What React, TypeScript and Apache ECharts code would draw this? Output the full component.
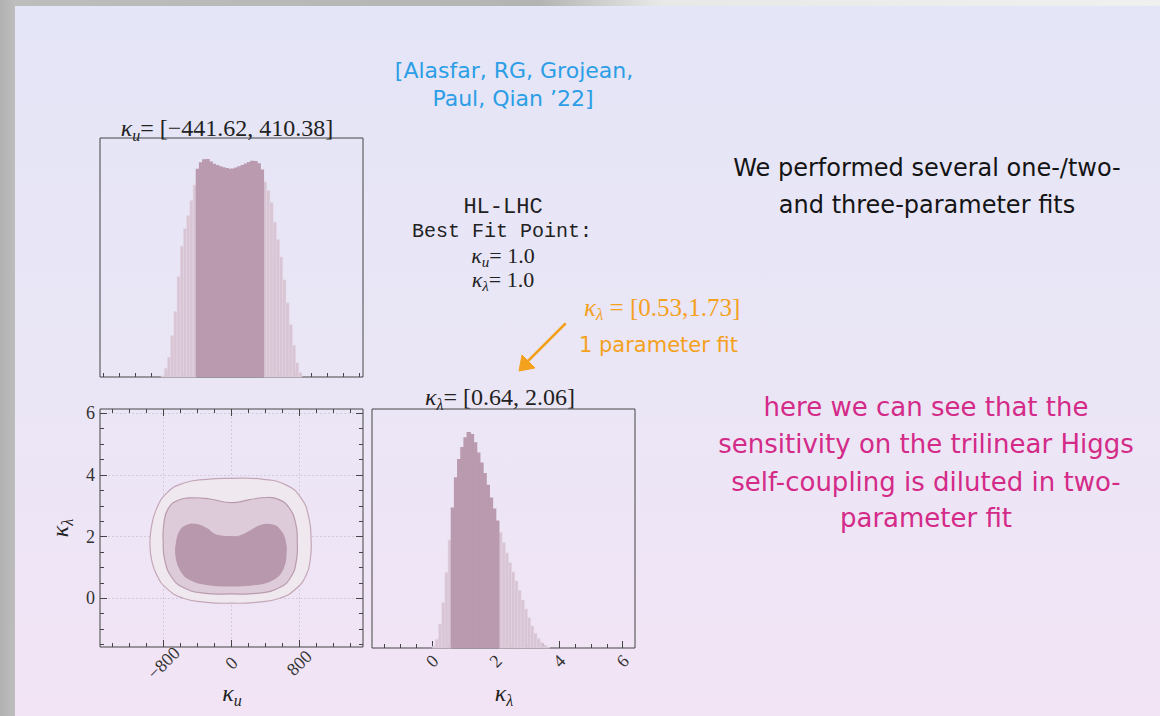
import React, { useEffect, useRef } from "react";
import * as echarts from "echarts";

// ---------- data ----------
const kuBinCenters = [
  -860, -820, -780, -740, -700, -660, -620, -580, -540, -500,
  -460, -420, -380, -340, -300, -260, -220, -180, -140, -100,
  -60, -20, 20, 60, 100, 140, 180, 220, 260, 300,
  340, 380, 420, 460, 500, 540, 580, 620, 660, 700,
  740, 780, 820, 860,
];
const kuCounts = [
  0.005, 0.04, 0.09, 0.19, 0.3, 0.46, 0.6, 0.68, 0.74, 0.81,
  0.88, 0.955, 0.985, 0.998, 1.0, 0.988, 0.978, 0.972, 0.967, 0.962,
  0.958, 0.955, 0.956, 0.961, 0.967, 0.972, 0.979, 0.986, 0.992, 0.99,
  0.98, 0.952, 0.895, 0.855, 0.8, 0.71, 0.63, 0.55, 0.445, 0.34,
  0.24, 0.145, 0.065, 0.02,
];
const kuInterval = [-441.62, 410.38];

const klBinCenters = [
  0.05, 0.15, 0.25, 0.35, 0.45, 0.55, 0.65, 0.75, 0.85, 0.95,
  1.05, 1.15, 1.25, 1.35, 1.45, 1.55, 1.65, 1.75, 1.85, 1.95,
  2.05, 2.15, 2.25, 2.35, 2.45, 2.55, 2.65, 2.75, 2.85, 2.95,
  3.05, 3.15, 3.25, 3.35, 3.45, 3.55, 3.65,
];
const klCounts = [
  0.008, 0.04, 0.11, 0.21, 0.35, 0.5, 0.65, 0.79, 0.875, 0.93,
  0.975, 1.0, 0.99, 0.952, 0.905, 0.858, 0.81, 0.755, 0.697, 0.645,
  0.59, 0.535, 0.487, 0.44, 0.395, 0.352, 0.31, 0.266, 0.222, 0.18,
  0.14, 0.102, 0.068, 0.043, 0.026, 0.013, 0.005,
];
const klInterval = [0.64, 2.06];

// 2D contours [kappa_u, kappa_lambda]
const contourOuter = [
  [0, 3.89], [-294, 3.86], [-569, 3.73], [-764, 3.41], [-890, 2.86], [-949, 2.22],
  [-961, 1.72], [-941, 1.24], [-882, 0.76], [-764, 0.32], [-569, 0.0], [-294, -0.13],
  [0, -0.16], [294, -0.13], [568, 0.0], [764, 0.32], [882, 0.76], [930, 1.3],
  [938, 1.9], [913, 2.6], [823, 3.24], [647, 3.67], [372, 3.86],
];
const contourMiddle = [
  [0, 3.1], [-257, 3.22], [-453, 3.26], [-629, 3.18], [-746, 2.91], [-797, 2.42],
  [-805, 1.8], [-786, 1.23], [-707, 0.69], [-569, 0.35], [-334, 0.17], [0, 0.14],
  [327, 0.17], [568, 0.35], [700, 0.69], [765, 1.23], [775, 1.88], [757, 2.42],
  [680, 2.93], [560, 3.2], [412, 3.27], [215, 3.2],
];
const contourInner = [
  [0, 2.0], [-180, 2.05], [-294, 2.26], [-412, 2.39], [-529, 2.36], [-608, 2.17],
  [-650, 1.77], [-652, 1.34], [-600, 0.91], [-490, 0.61], [-294, 0.45], [0, 0.4],
  [294, 0.45], [490, 0.61], [607, 0.96], [642, 1.45], [630, 1.88], [568, 2.23],
  [460, 2.39], [345, 2.36], [215, 2.17], [98, 2.02],
];

const kuMajorTicks = [-800, 0, 800];
const kuMinorTicks = [
  -1600, -1400, -1200, -1000, -800, -600, -400, -200, 0,
  200, 400, 600, 800, 1000, 1200, 1400, 1600,
];
const klMajorTicks = [0, 2, 4, 6];
const klMinorTicks = [
  -1.5, -1, -0.5, 0, 0.5, 1, 1.5, 2, 2.5, 3, 3.5, 4, 4.5, 5, 5.5, 6,
];

// ---------- styles ----------
const SERIF = '"Liberation Serif", "DejaVu Serif", serif';
const MONO = '"Liberation Mono", "DejaVu Sans Mono", monospace';
const HAND = '"DejaVu Sans", "Noto Sans", sans-serif';

const DARK = "#b99aae";
const LIGHT = "#d8c4d4";
const LIGHT_EDGE = "#e3d5e1";
const AXIS = "#454545";
const TICK = { color: AXIS, width: 1 };

const fmt = (v: number) => (v < 0 ? "\u2212" + Math.abs(v) : String(v));

function axis(
  gridIndex: number,
  range: number[],
  ticks: number[],
  len: number,
  position: string,
  label?: any,
  split?: boolean
) {
  const vals = ticks.filter((v) => v >= range[0] - 1e-9 && v <= range[1] + 1e-9);
  return {
    type: "value",
    gridIndex,
    min: range[0],
    max: range[1],
    position,
    axisLine: { show: false, onZero: false },
    axisTick: { show: true, inside: true, length: len, customValues: vals, lineStyle: TICK },
    axisLabel: label
      ? {
          show: true,
          customValues: vals,
          formatter: fmt,
          fontFamily: SERIF,
          fontSize: 18,
          color: "#333",
          ...label,
        }
      : { show: false },
    splitLine: split
      ? { show: true, lineStyle: { color: "rgba(150,150,165,0.4)", width: 0.8, type: [2, 2] } }
      : { show: false },
    minorTick: { show: false },
    minorSplitLine: { show: false },
  };
}

function histSeries(xIdx: number, yIdx: number, centers: number[], counts: number[], interval: number[]) {
  const w = centers[1] - centers[0];
  return {
    type: "custom",
    xAxisIndex: xIdx,
    yAxisIndex: yIdx,
    silent: true,
    data: centers.map((c, i) => [c, counts[i]]),
    encode: { x: 0, y: 1 },
    renderItem: (_params: any, api: any) => {
      const c = api.value(0);
      const h = api.value(1);
      const a = api.coord([c - w / 2, 0]);
      const b = api.coord([c + w / 2, h]);
      const inside = c >= interval[0] && c <= interval[1];
      if (inside) {
        return {
          type: "rect",
          shape: { x: a[0] - 0.6, y: b[1], width: b[0] - a[0] + 1.2, height: a[1] - b[1] },
          style: { fill: DARK },
          z2: 2,
        };
      }
      return {
        type: "rect",
        shape: { x: a[0], y: b[1], width: b[0] - a[0], height: a[1] - b[1] },
        style: { fill: LIGHT, stroke: LIGHT_EDGE, lineWidth: 0.6 },
        z2: 1,
      };
    },
  };
}

const contours = [
  { pts: contourOuter, fill: "#f0e8ef", stroke: "#c3a6b8" },
  { pts: contourMiddle, fill: "#ddcbd9", stroke: "#b99bae" },
  { pts: contourInner, fill: "#b898ad", stroke: "#b898ad" },
];

function kRich(size: number, color: string) {
  const sub = Math.round(size * 0.66);
  return {
    k: { fontFamily: SERIF, fontStyle: "italic", fontSize: size, lineHeight: size, verticalAlign: "top", fill: color },
    s: {
      fontFamily: SERIF,
      fontStyle: "italic",
      fontSize: sub,
      lineHeight: sub - 3,
      padding: [size - sub + 3, 0, 0, 0],
      verticalAlign: "top",
      fill: color,
    },
    t: { fontFamily: SERIF, fontSize: size, lineHeight: size, verticalAlign: "top", fill: color },
  };
}

function txt(x: number, y: number, text: string, style: any, align = "center", rotation = 0) {
  return {
    type: "text",
    x,
    y,
    rotation,
    silent: true,
    z: 100,
    style: {
      text,
      align,
      textAlign: align,
      verticalAlign: "middle",
      textVerticalAlign: "middle",
      ...style,
    },
  };
}

function kText(x: number, y: number, sub: string, rest: string, size: number, color: string, align = "center", rotation = 0) {
  return txt(x, y, `{k|κ}{s|${sub}}{t|${rest}}`, { rich: kRich(size, color), fill: color }, align, rotation);
}

const handStyle = (size: number, color: string) => ({ fontFamily: HAND, fontSize: size, fill: color });

const BLUE = "#2c9ee6";
const ORANGE = "#f4a11d";
const MAGENTA = "#d42a88";
const INK = "#222";

const option: any = {
  animation: false,
  grid: [
    { left: 100, top: 138, width: 263, height: 239, show: true, borderColor: AXIS, borderWidth: 1, backgroundColor: "transparent", outerBoundsMode: "none" },
    { left: 100, top: 409, width: 263, height: 238, show: true, borderColor: AXIS, borderWidth: 1, backgroundColor: "transparent", outerBoundsMode: "none" },
    { left: 372, top: 409, width: 263, height: 239, show: true, borderColor: AXIS, borderWidth: 1, backgroundColor: "transparent", outerBoundsMode: "none" },
  ],
  xAxis: [
    axis(0, [-1644, 1644], kuMajorTicks, 7, "bottom"),
    axis(0, [-1644, 1644], kuMinorTicks, 4, "bottom"),
    axis(1, [-1550, 1550], kuMajorTicks, 7, "bottom", { rotate: 45, align: "center", verticalAlign: "middle", margin: 16 }, true),
    axis(1, [-1550, 1550], kuMinorTicks, 4, "bottom"),
    axis(1, [-1550, 1550], kuMajorTicks, 7, "top"),
    axis(1, [-1550, 1550], kuMinorTicks, 4, "top"),
    axis(2, [-1.9, 6.39], klMajorTicks, 7, "bottom", { rotate: 45, align: "center", verticalAlign: "middle", margin: 13 }),
    axis(2, [-1.9, 6.39], klMinorTicks, 4, "bottom"),
  ],
  yAxis: [
    { type: "value", gridIndex: 0, min: 0, max: 1.096, show: false },
    axis(1, [-1.58, 6.14], klMajorTicks, 7, "left", { margin: 5 }, true),
    axis(1, [-1.58, 6.14], klMinorTicks, 4, "left"),
    axis(1, [-1.58, 6.14], klMajorTicks, 7, "right"),
    axis(1, [-1.58, 6.14], klMinorTicks, 4, "right"),
    { type: "value", gridIndex: 2, min: 0, max: 1.106, show: false },
  ],
  series: [
    histSeries(0, 0, kuBinCenters, kuCounts, kuInterval),
    {
      type: "custom",
      xAxisIndex: 2,
      yAxisIndex: 1,
      silent: true,
      data: contours.map((_c, i) => [i]),
      renderItem: (params: any, api: any) => {
        const c = contours[params.dataIndex];
        return {
          type: "polygon",
          shape: { points: c.pts.map((p) => api.coord(p)), smooth: 0.5 },
          style: { fill: c.fill, stroke: c.stroke, lineWidth: 1.2 },
        };
      },
    },
    histSeries(6, 5, klBinCenters, klCounts, klInterval),
  ],
  graphic: [
    // panel titles
    kText(227, 128, "u", `= [\u2212${Math.abs(kuInterval[0])}, ${kuInterval[1]}]`, 24, INK),
    kText(500, 397, "λ", `= [${klInterval[0]}, ${klInterval[1].toFixed(2)}]`, 24, INK),
    // axis names
    kText(232, 693, "u", "", 24, INK),
    kText(504, 693, "λ", "", 24, INK),
    kText(60, 528, "λ", "", 24, INK, "center", Math.PI / 2),
    // best-fit block
    txt(503, 207, "HL-LHC", { fontFamily: MONO, fontSize: 22, fill: INK }),
    txt(502, 231, "Best Fit Point:", { fontFamily: MONO, fontSize: 20, fill: INK }),
    kText(503, 255, "u", "= 1.0", 22, INK),
    kText(503, 279, "λ", "= 1.0", 22, INK),
    // reference
    txt(514, 70, "[Alasfar, RG, Grojean,", handStyle(22, BLUE)),
    txt(513, 98, "Paul, Qian \u201922]", handStyle(22, BLUE)),
    // orange note
    kText(584, 307, "λ", " = [0.53,1.73]", 25, ORANGE, "left"),
    txt(579, 345, "1 parameter fit", handStyle(21, ORANGE), "left"),
    {
      type: "line",
      silent: true,
      z: 100,
      shape: { x1: 565, y1: 324, x2: 524, y2: 365 },
      style: { stroke: ORANGE, lineWidth: 2.5, lineCap: "round" },
    },
    {
      type: "polygon",
      silent: true,
      z: 100,
      shape: { points: [[519, 371], [522, 355], [535, 368]] },
      style: { fill: ORANGE, stroke: ORANGE, lineWidth: 1, lineJoin: "round" },
    },
    // black note
    txt(927, 168, "We performed several one-/two-", handStyle(24, "#141414")),
    txt(927, 205, "and three-parameter fits", handStyle(24, "#141414")),
    // magenta note
    txt(926, 407, "here we can see that the", handStyle(26, MAGENTA)),
    txt(926, 444, "sensitivity on the trilinear Higgs", handStyle(26, MAGENTA)),
    txt(926, 482, "self-coupling is diluted in two-", handStyle(26, MAGENTA)),
    txt(926, 518, "parameter fit", handStyle(26, MAGENTA)),
  ],
};

export default function App() {
  const ref = useRef<HTMLDivElement>(null);
  useEffect(() => {
    if (!ref.current) return;
    const chart = echarts.init(ref.current, null, { renderer: "svg" });
    chart.setOption(option);
    return () => chart.dispose();
  }, []);
  return (
    <div
      style={{
        position: "fixed",
        left: 0,
        top: 0,
        width: 1160,
        height: 716,
        overflow: "hidden",
        background:
          "linear-gradient(to right, #b2b2b2 0px, #bdbdbd 15px, #b4b4b4 540px, #e8e8e8 660px, #f0f0f0 100%)",
      }}
    >
      <div
        style={{
          position: "absolute",
          left: 15,
          top: 6,
          right: 0,
          bottom: 0,
          background: "linear-gradient(180deg, #e4e5f7 0%, #eae6f6 50%, #f2e4f5 100%)",
        }}
      />
      <div ref={ref} style={{ position: "absolute", left: 0, top: 0, width: 1160, height: 716 }} />
    </div>
  );
}
